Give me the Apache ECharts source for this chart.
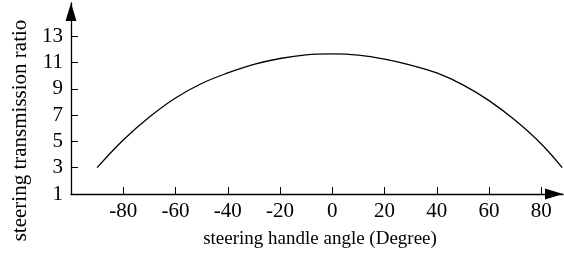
<!DOCTYPE html>
<html>
<head>
<meta charset="utf-8">
<script src="https://cdn.jsdelivr.net/npm/echarts@6/dist/echarts.min.js"></script>
<style>
  html, body { margin: 0; padding: 0; background: #fff; }
  #chart { width: 564px; height: 258px; }
</style>
</head>
<body>
<div id="chart"></div>
<script>
// steering handle angle (deg) and transmission ratio
var angles = [-90, -80, -70, -60, -50, -40, -30, -20, -10, 0, 10, 20, 30, 40, 50, 60, 70, 80, 88];
var ratios = [3.0, 5.1, 6.85, 8.3, 9.4, 10.2, 10.85, 11.3, 11.58, 11.65, 11.55, 11.25, 10.8, 10.2, 9.3, 8.1, 6.6, 4.8, 3.0];
var yTicks = [1, 3, 5, 7, 9, 11, 13];
var xTicks = [-80, -60, -40, -20, 0, 20, 40, 60, 80];

var points = [];
for (var i = 0; i < angles.length; i++) {
    points.push([angles[i], ratios[i]]);
}

var font = 'Liberation Serif';
var myChart = echarts.init(document.getElementById('chart'));

var option = {
    animation: false,
    grid: { left: 71, right: 1, top: 3, bottom: 64 },
    xAxis: {
        type: 'value',
        min: -100,
        max: 88.3,
        name: 'steering handle angle (Degree)',
        nameLocation: 'middle',
        nameGap: 36,
        nameTextStyle: { fontFamily: font, fontSize: 19, color: '#000', padding: [0, 0, 0, 6] },
        axisLine: {
            onZero: false,
            symbol: ['none', 'triangle'],
            symbolSize: [11, 18],
            symbolOffset: [0, -9],
            lineStyle: { color: '#000', width: 1.3 }
        },
        axisTick: { inside: true, length: 7, customValues: xTicks, lineStyle: { color: '#000' } },
        axisLabel: {
            fontFamily: font, fontSize: 21, color: '#000', margin: 7,
            customValues: xTicks
        },
        splitLine: { show: false }
    },
    yAxis: {
        type: 'value',
        min: 1,
        max: 15.52,
        name: 'steering transmission ratio',
        nameLocation: 'middle',
        nameGap: 34,
        nameTextStyle: { fontFamily: font, fontSize: 21, color: '#000', padding: [0, 64, 0, 0] },
        axisLine: {
            onZero: false,
            symbol: ['none', 'triangle'],
            symbolSize: [11, 18],
            symbolOffset: [0, -9],
            lineStyle: { color: '#000', width: 1.3 }
        },
        axisTick: { inside: true, length: 7, customValues: yTicks, lineStyle: { color: '#000' } },
        axisLabel: {
            fontFamily: font, fontSize: 21, color: '#000', margin: 8,
            customValues: yTicks
        },
        splitLine: { show: false }
    },
    series: [{
        type: 'line',
        data: points,
        smooth: 0.4,
        showSymbol: false,
        lineStyle: { color: '#000', width: 1.3 }
    }]
};

myChart.setOption(option);
</script>
</body>
</html>
